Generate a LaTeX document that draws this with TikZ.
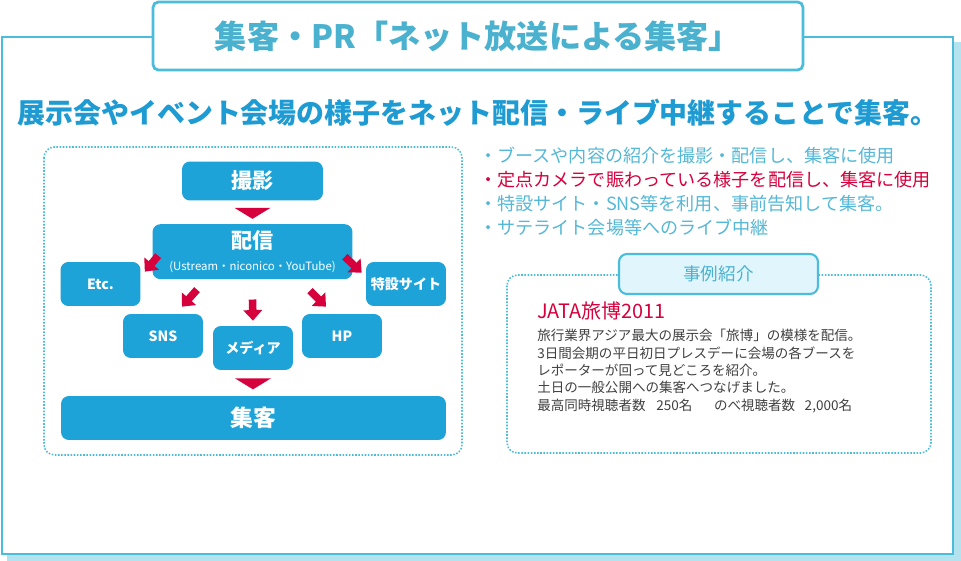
\documentclass[tikz,border=0pt]{standalone}
\usepackage{fontspec}
\setmainfont{Noto Sans CJK JP}
\usetikzlibrary{positioning,arrows.meta,calc}
\definecolor{frameblue}{HTML}{4BBCD9}
\definecolor{shadowblue}{HTML}{B3E3EF}
\definecolor{titleblue}{HTML}{4AB1CF}
\definecolor{leadblue}{HTML}{1E9BD2}
\definecolor{nodeblue}{HTML}{1DA3D8}
\definecolor{crimson}{HTML}{D5003C}
\definecolor{bulletblue}{HTML}{55B8D6}
\definecolor{labelfill}{HTML}{E0F6FC}
\definecolor{casegray}{HTML}{404040}
\tikzset{
  box/.style={rectangle, rounded corners=4.5pt, fill=nodeblue, text=white, inner sep=0pt, align=center},
  smallbox/.style={box, minimum width=1.6cm, minimum height=0.88cm, font=\bfseries\fontsize{8}{9}\selectfont},
  fatarrow/.style={-{Triangle[length=6pt,width=10.5pt]}, line width=4.3pt, draw=crimson},
  dotbox/.style={draw=frameblue, line width=0.9pt, dash pattern=on 0.9pt off 0.9pt, rounded corners=6pt},
}
\begin{document}
\begin{tikzpicture}[x=0.02cm, y=-0.02cm]
  \useasboundingbox (0,0) rectangle (961,561);
  % frame and shadow
  \fill[shadowblue] (7,42) rectangle (961,561);
  \draw[frameblue, line width=1.4pt, fill=white] (2,37) rectangle (953,554);
  \node[draw=frameblue, line width=1.6pt, fill=white, rounded corners=3pt,
        minimum width=13cm, minimum height=1.36cm, text=titleblue,
        font=\bfseries\fontsize{18.3}{18}\selectfont] (title) at (478,36) {集客・PR「ネット放送による集客」};
  \node[text=leadblue, font=\bfseries\fontsize{15.9}{16}\selectfont] (lead) at (478,113)
    {展示会やイベント会場の様子をネット配信・ライブ中継することで集客。};
  % flow
  \draw[dotbox] (44,147) rectangle (462,455);
  \node[box, minimum width=2.82cm, minimum height=0.78cm, font=\bfseries\fontsize{12}{12}\selectfont] (satsuei) at (252.5,181) {撮影};
  \node[box, minimum width=4cm, minimum height=1.1cm, below=0.46cm of satsuei] (haishin)
    {{\bfseries\fontsize{12}{12}\selectfont 配信}\\[1pt]{\fontsize{6.5}{7}\selectfont (Ustream・niconico・YouTube)}};
  \node[smallbox] (etc) at (100.5,284) {Etc.};
  \node[smallbox] (toku) at (406,284) {特設サイト};
  \node[smallbox] (sns) at (163,336) {SNS};
  \node[smallbox] (media) at (253,348) {メディア};
  \node[smallbox] (hp) at (342,336) {HP};
  \node[box, minimum width=7.7cm, minimum height=0.88cm, font=\bfseries\fontsize{13}{13}\selectfont] (shukyaku) at (253.5,418) {集客};
  \fill[crimson] ($(satsuei.south)+(-18,7)$) -- ($(satsuei.south)+(18,7)$) -- ($(satsuei.south)+(0,18)$) -- cycle;
  \fill[crimson] ($(media.south)+(-18,8)$) -- ($(media.south)+(18,8)$) -- ($(media.south)+(0,19)$) -- cycle;
  \draw[fatarrow] ($(haishin.west)+(6,4)$) -- ($(etc.north east)+(4,10)$);
  \draw[fatarrow] ($(haishin.east)+(-8,5)$) -- ($(toku.north west)+(-4,11)$);
  \draw[fatarrow] ($(sns.north)+(34,-24)$) -- ($(sns.north)+(19,-7)$);
  \draw[fatarrow] ($(haishin.south)+(0,20)$) -- ($(media.north)+(0,-5)$);
  \draw[fatarrow] ($(hp.north)+(-32,-23)$) -- ($(hp.north)+(-16,-7)$);
  % points
  \node[anchor=north west, align=left, inner sep=0pt, text=bulletblue,
        font=\fontsize{10.3}{13.6}\selectfont] (points) at (479,147)
    {・ブースや内容の紹介を撮影・配信し、集客に使用\\
     \textcolor{crimson}{・定点カメラで賑わっている様子を配信し、集客に使用}\\
     ・特設サイト・SNS等を利用、事前告知して集客。\\
     ・サテライト会場等へのライブ中継};
  % case
  \draw[dotbox] (507,275) rectangle (931,453);
  \node[draw=frameblue, line width=1.2pt, fill=labelfill, rounded corners=4.5pt,
        minimum width=3.98cm, minimum height=0.8cm, text=titleblue,
        font=\fontsize{10}{10}\selectfont] (jirei) at (718.5,274) {事例紹介};
  \node[anchor=west, inner sep=0pt, text=crimson, font=\fontsize{11.3}{12}\selectfont] (jata) at (537,311) {JATA旅博2011};
  \node[anchor=north west, align=left, inner sep=0pt, text=casegray,
        font=\fontsize{7.7}{9.9}\selectfont] (case) at (537,329)
    {旅行業界アジア最大の展示会「旅博」の模様を配信。\\
     3日間会期の平日初日プレスデーに会場の各ブースを\\
     レポーターが回って見どころを紹介。\\
     土日の一般公開への集客へつなげました。\\
     最高同時視聴者数\hspace{0.8em}250名\hspace{1.6em}のべ視聴者数\hspace{0.7em}2,000名};
\end{tikzpicture}
\end{document}
